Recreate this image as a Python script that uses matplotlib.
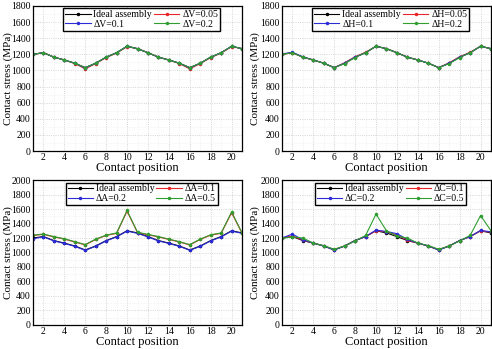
import matplotlib
matplotlib.use("Agg")
import matplotlib.pyplot as plt
from matplotlib.ticker import MultipleLocator

plt.rcParams['font.family'] = ['Liberation Serif', 'DejaVu Serif']

pos = list(range(1, 22))

# ideal assembly (shared by all panels)
ideal = [1200, 1220, 1165, 1130, 1090, 1035, 1090, 1165, 1220, 1300, 1270,
         1220, 1165, 1130, 1090, 1035, 1090, 1165, 1220, 1300, 1270]

# panel (a): dV
dv_005 = [1200, 1220, 1165, 1130, 1085, 1020, 1085, 1160, 1215, 1295, 1270,
          1220, 1165, 1130, 1085, 1020, 1085, 1160, 1215, 1295, 1270]
dv_01 = [1200, 1220, 1165, 1130, 1090, 1030, 1090, 1165, 1220, 1300, 1270,
         1220, 1165, 1130, 1090, 1030, 1090, 1165, 1220, 1300, 1270]
dv_02 = [1200, 1220, 1165, 1130, 1090, 1035, 1090, 1165, 1220, 1300, 1270,
         1220, 1165, 1130, 1090, 1035, 1090, 1165, 1220, 1300, 1270]

# panel (b): dH
dh_005 = [1200, 1220, 1165, 1130, 1090, 1035, 1095, 1170, 1225, 1300, 1270,
          1220, 1165, 1130, 1090, 1035, 1095, 1170, 1225, 1300, 1270]
dh_01 = [1205, 1225, 1170, 1130, 1090, 1035, 1090, 1165, 1220, 1300, 1270,
         1220, 1165, 1130, 1090, 1035, 1090, 1165, 1220, 1300, 1270]
dh_02 = [1200, 1220, 1165, 1130, 1090, 1035, 1085, 1160, 1220, 1300, 1270,
         1220, 1165, 1130, 1090, 1035, 1085, 1160, 1220, 1300, 1270]

# panel (c): dA
da_01 = [1235, 1250, 1215, 1185, 1145, 1105, 1180, 1235, 1265, 1570, 1275,
         1245, 1215, 1180, 1145, 1105, 1180, 1240, 1265, 1550, 1265]
da_02 = [1190, 1215, 1160, 1125, 1085, 1030, 1085, 1160, 1215, 1295, 1265,
         1215, 1160, 1125, 1085, 1030, 1085, 1160, 1215, 1295, 1265]
da_05 = [1240, 1255, 1220, 1190, 1150, 1110, 1185, 1240, 1270, 1580, 1280,
         1250, 1220, 1185, 1150, 1110, 1185, 1245, 1270, 1560, 1270]

# panel (d): dC
dc_01 = [1200, 1230, 1170, 1130, 1090, 1040, 1090, 1165, 1220, 1300, 1285,
         1245, 1170, 1130, 1090, 1040, 1090, 1165, 1220, 1300, 1280]
dc_02 = [1200, 1255, 1175, 1130, 1090, 1035, 1090, 1165, 1220, 1310, 1290,
         1260, 1180, 1130, 1090, 1035, 1090, 1165, 1220, 1305, 1285]
dc_05 = [1195, 1215, 1200, 1130, 1095, 1045, 1090, 1160, 1235, 1530, 1300,
         1225, 1200, 1130, 1095, 1045, 1090, 1160, 1235, 1510, 1300]

colors = ['black', '#e8262a', '#2b2bd9', '#2e9e2e']

# rect, y max, y-label x offset, series
panels = [
    ([0.067, 0.567, 0.425, 0.416], 1800, -0.095,
     [('Ideal assembly', ideal), ('ΔV=0.05', dv_005),
      ('ΔV=0.1', dv_01), ('ΔV=0.2', dv_02)]),
    ([0.573, 0.567, 0.425, 0.416], 1800, -0.103,
     [('Ideal assembly', ideal), ('ΔH=0.05', dh_005),
      ('ΔH=0.1', dh_01), ('ΔH=0.2', dh_02)]),
    ([0.067, 0.069, 0.425, 0.415], 2000, -0.095,
     [('Ideal assembly', ideal), ('ΔA=0.1', da_01),
      ('ΔA=0.2', da_02), ('ΔA=0.5', da_05)]),
    ([0.573, 0.069, 0.425, 0.415], 2000, -0.103,
     [('Ideal assembly', ideal), ('ΔC=0.1', dc_01),
      ('ΔC=0.2', dc_02), ('ΔC=0.5', dc_05)]),
]

fig = plt.figure(figsize=(4.92, 3.49), dpi=100)

for rect, ymax, labx, series in panels:
    ax = fig.add_axes(rect)
    handles = []
    for (label, vals), c in zip(series, colors):
        h, = ax.plot(pos, vals, color=c, lw=0.8, marker='o', ms=1.5, label=label)
        handles.append(h)
    ax.set_xlim(1, 21)
    ax.set_ylim(0, ymax)
    ax.xaxis.set_major_locator(MultipleLocator(2))
    ax.xaxis.set_minor_locator(MultipleLocator(1))
    ax.yaxis.set_major_locator(MultipleLocator(200))
    ax.yaxis.set_minor_locator(MultipleLocator(100))
    ax.grid(True, which='major', color='#c8c8c8', lw=0.6, ls=':')
    ax.grid(True, which='minor', color='#e4e4e4', lw=0.4, ls=':')
    ax.tick_params(which='both', direction='in', labelsize=7, length=0, pad=1.5)
    ax.set_xlabel('Contact position', fontsize=9, labelpad=0)
    ax.set_ylabel('Contact stress (MPa)', fontsize=8)
    ax.yaxis.set_label_coords(labx, 0.5)
    for s in ax.spines.values():
        s.set_linewidth(0.9)
    # row-major order like the original: ideal, 1st | 2nd, 3rd
    order = [handles[0], handles[2], handles[1], handles[3]]
    ax.legend(handles=order, ncol=2, loc='upper center',
              bbox_to_anchor=(0.52, 1.0),
              fontsize=7, frameon=True, fancybox=False, edgecolor='black',
              framealpha=1, handlelength=2.6, handletextpad=0.3,
              columnspacing=0.2, borderpad=0.2, labelspacing=0.05,
              borderaxespad=0.25)

fig.savefig('out.png', dpi=100)
